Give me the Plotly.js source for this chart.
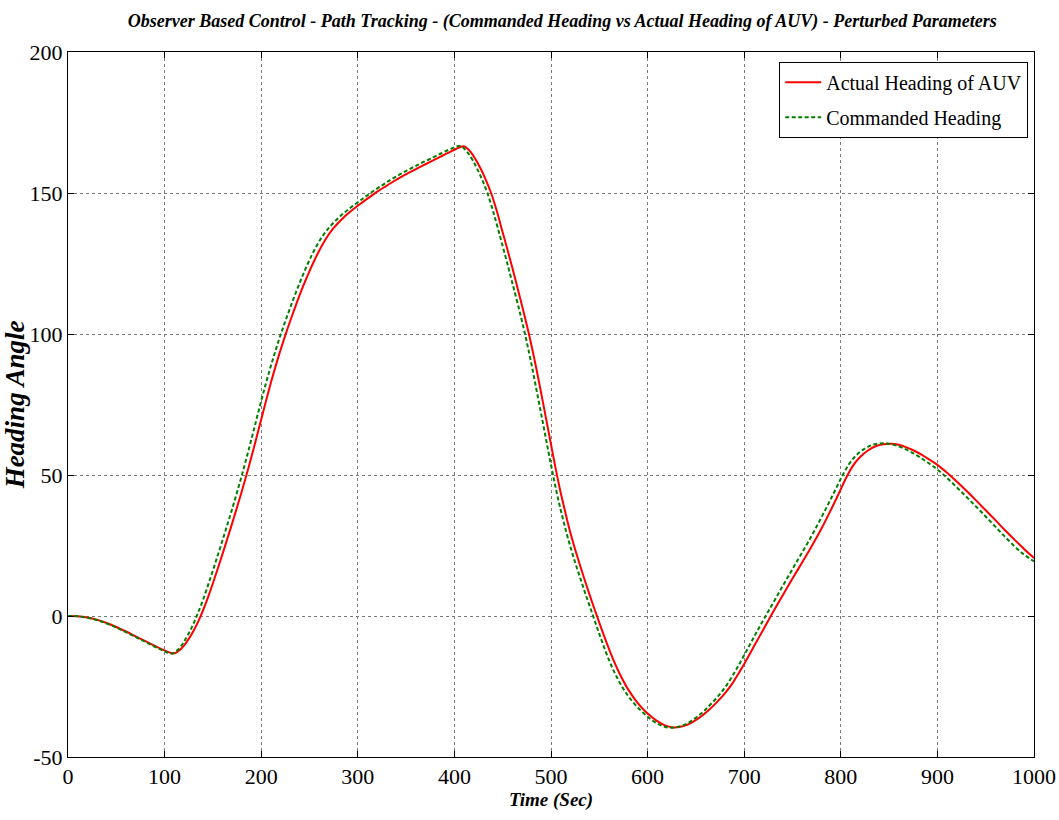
<!DOCTYPE html>
<html>
<head>
<meta charset="utf-8">
<script src="https://cdn.plot.ly/plotly-3.0.1.min.js"></script>
<style>html,body{margin:0;padding:0;background:#fff;}#chart{width:1059px;height:820px;}</style>
</head>
<body>
<div id="chart"></div>
<script>
// Actual heading of AUV (red)
var actualTime = [0, 10, 20, 30, 40, 50, 60, 70, 80, 90, 100, 105, 109, 112, 116, 120, 125, 130, 135, 140, 145, 150, 155, 160, 165, 170, 175, 180, 185, 190, 195, 200, 205, 210, 215, 220, 225, 230, 236, 243, 250, 258, 267, 275, 284, 293, 302, 310, 319, 328, 336, 345, 353, 362, 370, 380, 388, 396, 402, 406, 409, 412, 417, 422, 427, 432, 438, 444, 450, 457, 463, 470, 477, 483, 489, 495, 500, 505, 510, 515, 520, 525, 530, 535, 540, 546, 552, 558, 565, 572, 580, 589, 600, 610, 618, 626, 634, 642, 653, 662, 671, 680, 688, 695, 700, 706, 712, 718, 724, 730, 740, 750, 760, 770, 780, 790, 798, 806, 813, 820, 828, 836, 844, 852, 860, 868, 876, 884, 892, 900, 910, 920, 930, 940, 950, 960, 970, 980, 990, 1000];
var actualHeading = [0, -0.1, -0.55, -1.35, -2.5, -3.9, -5.5, -7.2, -8.9, -10.6, -12.2, -12.9, -13.3, -13.0, -12.0, -10.5, -8.1, -5.2, -1.8, 2.2, 6.7, 11.6, 16.75, 22.05, 27.45, 32.95, 38.55, 44.3, 50.3, 56.6, 63.1, 69.7, 76.3, 82.7, 88.7, 94.3, 99.6, 104.6, 110.3, 116.6, 122.3, 128.2, 133.8, 137.6, 140.9, 143.6, 146, 148, 150.2, 152.2, 153.9, 155.7, 157.2, 158.8, 160.2, 161.9, 163.3, 164.7, 165.7, 166.3, 166.6, 166.2, 164.5, 161.9, 158.8, 155.1, 150, 143.5, 136, 127.3, 119.5, 110, 100.2, 90.8, 80.5, 69.8, 60.8, 52, 43.8, 36.5, 29.6, 23.6, 18, 12.7, 7.5, 1.5, -4.3, -9.9, -15.9, -21.1, -26.1, -30.5, -34.6, -37.3, -38.8, -39.5, -39.3, -38.4, -36.2, -33.8, -30.8, -27.4, -23.8, -19.9, -17, -13.3, -9.6, -5.9, -2.2, 1.5, 7.4, 13.3, 19, 24.8, 31, 37.8, 43.5, 49.3, 53.5, 56.4, 58.7, 60.2, 60.9, 61.1, 60.7, 59.8, 58.6, 57.1, 55.4, 53.6, 50.8, 47.7, 44.4, 41, 37.5, 34, 30.4, 27, 23.7, 20.6];
// Commanded heading (green dashed)
var cmdTime = [0, 10, 20, 30, 40, 50, 60, 70, 80, 90, 100, 104, 107, 110, 114, 118, 122, 126, 130, 134, 139, 144, 149, 154, 159, 164, 169, 174, 179, 184, 189, 194, 199, 204, 209, 214, 219, 224, 230, 237, 244, 252, 261, 269, 278, 287, 296, 304, 308, 317, 326, 334, 343, 351, 360, 368, 378, 386, 394, 400, 404, 407, 410, 414, 419, 424, 429, 434, 440, 446, 453, 459, 466, 473, 479, 485, 491, 496, 501, 506, 511, 516, 521, 526, 531, 536, 542, 548, 554, 561, 568, 576, 585, 596, 606, 614, 622, 630, 638, 649, 658, 667, 676, 684, 691, 696, 702, 708, 714, 720, 726, 736, 746, 756, 766, 776, 786, 794, 802, 809, 816, 824, 832, 840, 848, 856, 864, 872, 880, 888, 896, 906, 916, 926, 936, 946, 956, 966, 976, 988, 1000];
var cmdHeading = [0, -0.1, -0.6, -1.45, -2.65, -4.1, -5.75, -7.45, -9.2, -10.9, -12.5, -13.1, -13.4, -13.0, -11.9, -10.2, -8.0, -5.5, -2.6, 0.6, 5.0, 9.9, 15.1, 20.4, 25.8, 31.3, 36.9, 42.7, 48.7, 55, 61.5, 68.2, 74.9, 81.4, 87.5, 93.2, 98.6, 103.6, 109.3, 115.7, 121.6, 127.7, 133.4, 137.2, 140.5, 143.3, 145.7, 147.7, 148.7, 150.9, 152.9, 154.7, 156.5, 158, 159.6, 161, 162.6, 164, 165.3, 166.2, 166.7, 166.5, 165.8, 164.2, 161.6, 158.3, 154.5, 150.2, 143.6, 136.2, 127.3, 119.4, 110.1, 100.1, 90.6, 80.2, 69.6, 60.6, 51.9, 43.6, 36.3, 29.5, 23.5, 17.9, 12.7, 7.5, 1.6, -4.4, -10.2, -16.4, -21.6, -26.4, -30.6, -34.5, -37.3, -38.8, -39.6, -39.4, -38.6, -36.3, -33.8, -30.7, -27.2, -23.4, -19.4, -16.4, -12.6, -8.8, -5, -1.3, 2.3, 8.3, 14.3, 20.2, 26.1, 32.4, 39, 44.5, 50, 54.1, 57, 59.2, 60.6, 61.2, 61.2, 60.6, 59.6, 58.3, 56.7, 54.9, 53, 50.2, 47, 43.6, 40.2, 36.7, 33.1, 29.5, 26, 22.2, 19.4];

var xTicks = [0, 100, 200, 300, 400, 500, 600, 700, 800, 900, 1000];
var yTicks = [-50, 0, 50, 100, 150, 200];

var serif = '"Liberation Serif", "Times New Roman", serif';

var traces = [
  {x: actualTime, y: actualHeading, type: 'scatter', mode: 'lines', name: 'Actual Heading of AUV',
   line: {color: '#ff0000', width: 2, shape: 'spline', smoothing: 1}, legendgroup: 'a'},
  {x: cmdTime, y: cmdHeading, type: 'scatter', mode: 'lines', name: 'Commanded Heading',
   line: {color: '#008000', width: 2, dash: '4px,2.5px', shape: 'spline', smoothing: 1}, legendgroup: 'b'}
];

var axisCommon = {
  showline: true, linecolor: '#000', linewidth: 1, mirror: 'ticks',
  ticks: 'inside', ticklen: 6, tickcolor: '#000', tickwidth: 1,
  showgrid: true, gridcolor: '#7a7a7a', griddash: 'dot', gridwidth: 1,
  zeroline: false, tickfont: {family: serif, size: 22, color: '#000'}
};

var layout = {
  width: 1059, height: 820,
  margin: {l: 68, r: 25, t: 52, b: 63},
  paper_bgcolor: '#fff', plot_bgcolor: '#fff',
  title: {text: '<b><i>Observer Based Control - Path Tracking - (Commanded Heading vs Actual Heading of AUV) - Perturbed Parameters</i></b>',
          font: {family: serif, size: 18, color: '#000'}, x: 0.531, xref: 'container', xanchor: 'center', y: 0.975, yref: 'container', yanchor: 'middle'},
  xaxis: Object.assign({}, axisCommon, {range: [0, 1000], tickvals: xTicks, ticktext: xTicks.map(String),
          title: {text: '<b><i>Time (Sec)</i></b>', font: {family: serif, size: 19, color: '#000'}, standoff: 3}}),
  yaxis: Object.assign({}, axisCommon, {range: [-50, 200], tickvals: yTicks, ticktext: yTicks.map(String),
          title: {text: '<b><i>Heading Angle</i></b>', font: {family: serif, size: 27, color: '#000'}, standoff: 3}}),
  showlegend: true,
  legend: {x: 0.994, y: 0.986, xanchor: 'right', yanchor: 'top', bgcolor: '#fff', bordercolor: '#000', borderwidth: 1,
           font: {family: serif, size: 20, color: '#000'}, traceorder: 'grouped', tracegroupgap: 6, itemwidth: 36}
};

Plotly.newPlot('chart', traces, layout, {displayModeBar: false, staticPlot: true});
</script>
</body>
</html>
